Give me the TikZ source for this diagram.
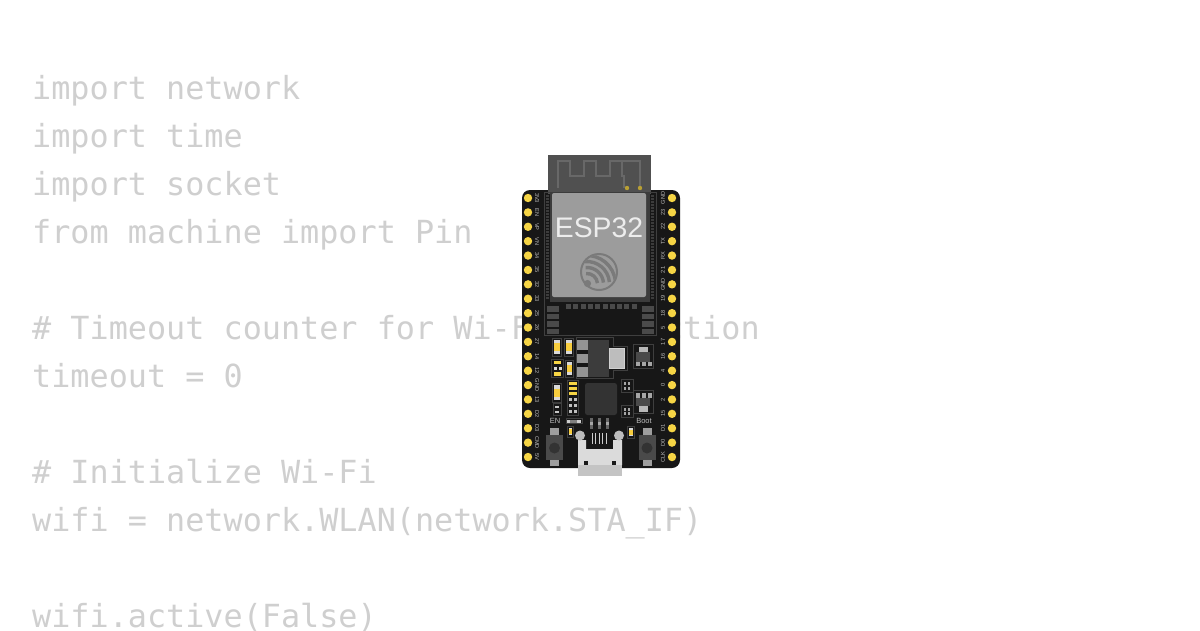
\documentclass[tikz,border=0pt]{standalone}
\usepackage{fontspec}
\setmainfont{Liberation Sans}
\setmonofont{DejaVu Sans Mono}
\definecolor{codeg}{HTML}{CFCFCF}
\definecolor{pcb}{HTML}{171717}
\definecolor{gold}{HTML}{F6D545}
\definecolor{ant}{HTML}{505050}
\definecolor{antl}{HTML}{686868}
\definecolor{shield}{HTML}{9C9C9C}
\definecolor{frameg}{HTML}{3C3C3C}
\definecolor{edge}{HTML}{3F3F3F}
\definecolor{padg}{HTML}{4A4A4A}
\definecolor{lightg}{HTML}{BDBDBD}
\definecolor{logog}{HTML}{7A7A7A}
\tikzset{
 code/.style={anchor=base west,inner sep=0pt,text=codeg,font=\ttfamily\fontsize{31.8}{32}\selectfont},
 pinlab/.style={inner sep=0pt,text=lightg,font=\fontsize{5.6}{6}\selectfont},
 pindot/.style={fill=gold,draw=none},
 boxed/.style={draw=edge,line width=0.8pt,fill=pcb},
}
% resistor: x, y (top-left), width, height
\newcommand{\resv}[4]{%
 \draw[boxed] (#1,#2) rectangle ++(#3,#4);
 \fill[white!85!black] (#1+1.5,#2+2) rectangle ++(#3-3,#4-4);
 \fill[gold!90!orange] (#1+1.5,#2+#4*0.3) rectangle ++(#3-3,#4*0.42);}
\begin{document}
\begin{tikzpicture}[x=1pt,y=-1pt]
\useasboundingbox (0,0) rectangle (1200,630);
\clip (0,0) rectangle (1200,630);
\fill[white] (0,0) rectangle (1200,630);
% ---- code
\node[code] (l1) at (32,99.5) {import network};
\node[code] (l2) at (32,147.5) {import time};
\node[code] (l3) at (32,195.5) {import socket};
\node[code] (l4) at (32,243.5) {from machine import Pin};
\node[code] (l5) at (32,339.5) {\# Timeout counter for Wi-Fi connection};
\node[code] (l6) at (32,387.5) {timeout = 0};
\node[code] (l7) at (32,483.5) {\# Initialize Wi-Fi};
\node[code] (l8) at (32,531.5) {wifi = network.WLAN(network.STA\_IF)};
\node[code] (l9) at (32,627.5) {wifi.active(False)};
% ---- board
\fill[pcb,rounded corners=8pt] (522,190) rectangle (680,468);
% antenna
\fill[ant] (548,155) rectangle (651,194);
\draw[antl,line width=2pt,line join=miter]
 (558,188) -- (558,161) -- (570,161) -- (570,176) -- (584,176) -- (584,161)
 -- (596,161) -- (596,176) -- (610,176) -- (610,161) -- (622,161) -- (622,176) -- (624,176) -- (624,188);
\draw[antl,line width=2pt] (622,161) -- (640,161) -- (640,188);
\fill[gold!75!black] (627,188) circle (2.2);
\fill[gold!75!black] (640,188) circle (2.2);
% pins
\foreach \n [count=\i from 0] in {3V3,EN,VP,VN,34,35,32,33,25,26,27,14,12,GND,13,D2,D3,CMD,5V}{
 \pgfmathsetmacro{\yy}{198+14.39*\i}
 \fill[pindot] (528,\yy) circle (4.2);
 \node[pinlab,rotate=-90] (pl\i) at (537,\yy) {\n};
}
\foreach \n [count=\i from 0] in {GND,23,22,TX,RX,21,GND,19,18,5,17,16,4,0,2,15,D1,D0,CLK}{
 \pgfmathsetmacro{\yy}{198+14.39*\i}
 \fill[pindot] (672,\yy) circle (4.2);
 \node[pinlab,rotate=90] (pr\i) at (663,\yy) {\n};
}
% module
\draw[edge,line width=0.8pt] (544,192) rectangle (656,335);
\draw[frameg,line width=2.4pt,dash pattern=on 1.5pt off 1.5pt] (547.5,195) -- (547.5,300);
\draw[frameg,line width=2.4pt,dash pattern=on 1.5pt off 1.5pt] (652.5,195) -- (652.5,300);
\fill[frameg] (550,192) rectangle (650,302);
\fill[shield,rounded corners=2pt] (552,193) rectangle (646,297);
\node[inner sep=0pt,text=white!93!black,font=\fontsize{28.3}{30}\selectfont] (esp) at (599,228) {ESP32};
% logo
\draw[logog,line width=2pt] (599,272) circle (18);
\begin{scope}
\clip (599,272) circle (17);
\foreach \r in {10.5,16.5,22.5,28.5}{
 \draw[logog,line width=3.4pt] (587,284) ++(-5:\r) arc[start angle=-5,end angle=-95,radius=\r];
}
\end{scope}
\fill[logog] (587.5,283.5) circle (3.6);
% module pads
\foreach \i in {0,...,9}{\fill[padg] (566+7.3*\i,303.5) rectangle ++(5,5.5);}
\foreach \yy in {306,313.5,321,328.5}{
 \fill[padg] (547,\yy) rectangle ++(11.5,5.5);
 \fill[padg] (642,\yy) rectangle ++(11.5,5.5);
}
% resistors top
\resv{552.5}{338}{9}{18}
\resv{564}{338}{9}{18}
\resv{565}{360}{8}{17}
\draw[boxed] (551,359) rectangle (563,377);
\fill[gold] (553.5,360.5) rectangle (561,364);
\fill[gold] (553.5,372) rectangle (561,375.5);
\fill[white!85!black] (554,366.5) rectangle ++(3,3);
\fill[white!85!black] (558.5,366.5) rectangle ++(3,3);
% regulator
\draw[edge,line width=0.8pt,fill=pcb] (576,337) -- (613,337) -- (613,346) -- (627,346) -- (627,370) -- (613,370) -- (613,378) -- (576,378) -- cycle;
\fill[frameg] (588,340) rectangle (609,377);
\foreach \yy in {340,353.5,367}{\fill[white!58!black] (577,\yy) rectangle ++(11,9.5);}
\fill[lightg] (609.5,348) rectangle (624,368);
\draw[white!82!black,line width=0.8pt] (609.5,348) rectangle (624,368);
% SOT top
\draw[boxed] (633,344) rectangle (653,368);
\fill[padg] (636,352) rectangle (650,362);
\fill[white!72!black] (639,347) rectangle (648,352);
\foreach \xx in {636,642,647.5}{\fill[white!65!black] (\xx,362) rectangle ++(4,4);}
% left lower resistors
\resv{552}{383}{9}{19}
\draw[boxed] (553,403) rectangle (561,415);
\fill[white!78!black] (555,405.5) rectangle ++(4,2.5);
\fill[white!78!black] (555,410.5) rectangle ++(4,2.5);
% network
\draw[boxed] (567,380) rectangle (578,415);
\foreach \yy in {382,387,392}{\fill[gold] (568.5,\yy) rectangle ++(8,2.6);}
\foreach \yy in {398,404,410}{
 \fill[white!75!black] (568.5,\yy) rectangle ++(3.2,3.2);
 \fill[white!75!black] (573.5,\yy) rectangle ++(3.2,3.2);
}
% main chip
\fill[black!80,rounded corners=2.5pt] (585,383) rectangle (617,415);
% diodes
\foreach \yy in {379.5,405}{
 \draw[boxed] (621,\yy) rectangle ++(12,12.5);
 \fill[white!65!black] (623.5,\yy+2.5) rectangle ++(2,3);
 \fill[white!65!black] (628,\yy+2.5) rectangle ++(2,3);
 \fill[white!65!black] (623.5,\yy+7) rectangle ++(2,3);
 \fill[white!65!black] (628,\yy+7) rectangle ++(2,3);
}
% SOT lower
\draw[boxed] (633,390) rectangle (653,413);
\fill[padg] (636,398) rectangle (650,406);
\foreach \xx in {636,642,647.5}{\fill[white!65!black] (\xx,393) rectangle ++(4,5);}
\fill[white!72!black] (639,406) rectangle (648,412);
% labels
\node[inner sep=0pt,text=lightg,font=\fontsize{7.5}{8}\selectfont] (en) at (555,421) {EN};
\node[inner sep=0pt,text=lightg,font=\fontsize{7.5}{8}\selectfont] (boot) at (644,421) {Boot};
% small parts above usb
\draw[boxed] (566,418.5) rectangle (582,423.5);
\fill[white!80!black] (567,419.5) rectangle (570,422.5);
\fill[white!50!black] (570,419.5) rectangle (577,422.5);
\fill[white!80!black] (577,419.5) rectangle (581,422.5);
\foreach \xx in {590,598,606}{\fill[white!40!black] (\xx,418) rectangle ++(3.4,11);\fill[white!65!black] (\xx,422) rectangle ++(3.4,3);}
\resv{567}{426}{6}{11}
\resv{627.5}{426}{6.5}{12}
% usb pins
\foreach \xx in {592,595.5,599,602.5,606}{\draw[white!80!black,line width=0.9pt] (\xx,433) -- (\xx,444);}
% buttons
\foreach \cx/\id in {554.5/L,647/R}{
 \fill[white!62!black] (\cx-4.5,427.5) rectangle (\cx+4.5,435);
 \fill[white!62!black] (\cx-4.5,459) rectangle (\cx+4.5,466);
 \fill[padg] (\cx-8.5,435) rectangle (\cx+8.5,459.5);
 \fill[black!80] (\cx,448) circle (5.5);
}
% USB
\fill[white!86!black] (578,440) -- (586,440) -- (586,449) -- (613,449) -- (613,440) -- (622,440) -- (622,465) -- (578,465) -- cycle;
\fill[white!77!black] (578,464.5) rectangle (622,476);
\fill[white!74!black] (580,435.5) circle (5);
\fill[white!74!black] (619,435.5) circle (5);
\fill[black!90] (584,460.5) rectangle ++(4,4);
\fill[black!90] (612,460.5) rectangle ++(4,4);
\end{tikzpicture}
\end{document}
